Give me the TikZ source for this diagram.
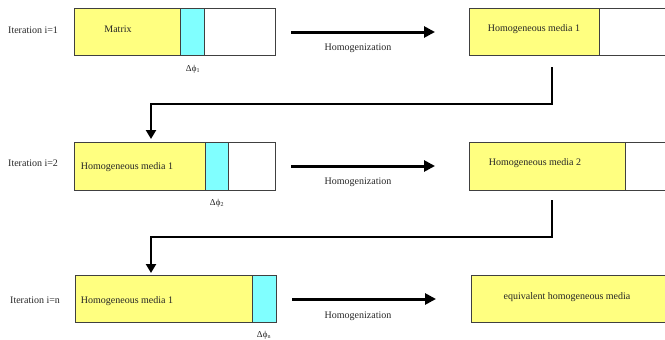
\documentclass[tikz,border=0pt]{standalone}
\usepackage{fontspec}
\setmainfont{Liberation Serif}
\usetikzlibrary{arrows.meta}
\definecolor{myyellow}{HTML}{FFFF80}
\definecolor{mycyan}{HTML}{80FFFF}
\tikzset{
  seg/.style={draw=black!75, line width=0.8pt, inner sep=0pt, outer sep=0pt, anchor=north west},
  ylw/.style={seg, fill=myyellow},
  cyn/.style={seg, fill=mycyan},
  wht/.style={seg, fill=white},
  lbl/.style={font=\fontsize{10}{12}\selectfont, inner sep=0pt, text=black!85},
  dlbl/.style={font=\fontsize{9}{11}\selectfont, inner sep=0pt, text=black!85},
  bigarrow/.style={line width=3pt, -{Triangle[length=11pt,width=11pt]}},
  loopline/.style={line width=2.6pt, -{Triangle[length=9pt,width=10pt]}}
}
\begin{document}
\begin{tikzpicture}[x=1pt,y=-1pt]
\useasboundingbox (0,0) rectangle (665,340);
% Row 1
\node[ylw, minimum width=106pt, minimum height=47pt] (y1) at (74,8) {};
\node[cyn, minimum width=24pt, minimum height=47pt] (c1) at (180,8) {};
\node[wht, minimum width=71pt, minimum height=47pt] (w1) at (204,8) {};
\node[ylw, minimum width=130pt, minimum height=47pt] (ry1) at (469,8) {};
\node[wht, minimum width=72pt, minimum height=47pt] (rw1) at (599,8) {};
\node[lbl, anchor=west] (it1) at (8,30) {Iteration i=1};
\node[lbl] (t1) at (118,29) {Matrix};
\node[dlbl] (d1) at (193,69) {Δϕ\textsubscript{1}};
\node[lbl] (h1) at (358,48) {Homogenization};
\node[lbl] (rt1) at (534,29) {Homogeneous media 1};
% Row 2
\node[ylw, minimum width=131pt, minimum height=48pt] (y2) at (74,142) {};
\node[cyn, minimum width=23pt, minimum height=48pt] (c2) at (205,142) {};
\node[wht, minimum width=47pt, minimum height=48pt] (w2) at (228,142) {};
\node[ylw, minimum width=156pt, minimum height=48pt] (ry2) at (469,142) {};
\node[wht, minimum width=46pt, minimum height=48pt] (rw2) at (625,142) {};
\node[lbl, anchor=west] (it2) at (8,163) {Iteration i=2};
\node[lbl] (t2) at (127,167) {Homogeneous media 1};
\node[dlbl] (d2) at (217,203) {Δϕ\textsubscript{2}};
\node[lbl] (h2) at (358,182) {Homogenization};
\node[lbl] (rt2) at (535,163) {Homogeneous media 2};
% Row 3
\node[ylw, minimum width=177pt, minimum height=47pt] (y3) at (75,275) {};
\node[cyn, minimum width=24pt, minimum height=47pt] (c3) at (252,275) {};
\node[ylw, minimum width=196pt, minimum height=47pt] (ry3) at (471,275) {};
\node[lbl, anchor=west] (it3) at (10,300) {Iteration i=n};
\node[lbl] (t3) at (127,301) {Homogeneous media 1};
\node[dlbl] (d3) at (264,335) {Δϕ\textsubscript{n}};
\node[lbl] (h3) at (358,316) {Homogenization};
\node[lbl] (rt3) at (567,297) {equivalent homogeneous media};
% Horizontal arrows
\coordinate (a1s) at (291,32); \coordinate (a1e) at (435,32);
\coordinate (a2s) at (291,166); \coordinate (a2e) at (435,166);
\coordinate (a3s) at (292,299); \coordinate (a3e) at (436,299);
\draw[bigarrow] (a1s) -- (a1e);
\draw[bigarrow] (a2s) -- (a2e);
\draw[bigarrow] (a3s) -- (a3e);
% Loop connectors
\coordinate (l1s) at (552,67); \coordinate (l1m) at (552,104);
\coordinate (l1n) at (151,104); \coordinate (l1e) at (151,139);
\draw[loopline] (l1s) -- (l1m) -- (l1n) -- (l1e);
\coordinate (l2s) at (552,200); \coordinate (l2m) at (552,237);
\coordinate (l2n) at (151,237); \coordinate (l2e) at (151,273);
\draw[loopline] (l2s) -- (l2m) -- (l2n) -- (l2e);
\end{tikzpicture}
\end{document}
